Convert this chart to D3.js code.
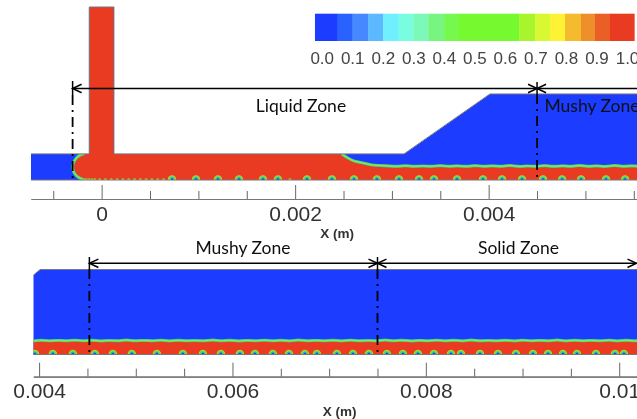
<!DOCTYPE html>
<html>
<head>
<meta charset="utf-8">
<script src="https://cdn.jsdelivr.net/npm/d3@7"></script>
<style>
	html, body { margin: 0; padding: 0; background: #fff; overflow: hidden; }
	svg { display: block; }
	.zone { font-family: Lato, sans-serif; font-size: 17.5px; fill: #111; text-anchor: middle; }
	.xlabel { font-family: "Liberation Sans", sans-serif; font-size: 13.5px; font-weight: bold; fill: #333; text-anchor: middle; }
</style>
</head>
<body>
<svg id="canvas" width="637" height="419"></svg>
<script>

// Colour bar
var barEdges = [-0.022, 0.052, 0.101, 0.152, 0.201, 0.252, 0.300, 0.349, 0.401, 0.449, 0.647, 0.699, 0.748, 0.797, 0.849, 0.895, 0.944, 1.024];
var barColors = ["#1a3cff", "#2a62ff", "#4488ff", "#5cb8ff", "#6ff0ff", "#78fde0", "#7bf8b8", "#78f580", "#76f850", "#76f92e", "#a8f52e", "#d8f832", "#fef236", "#f5bb2e", "#ee8f2a", "#ea5f25", "#e93a22"];
var barTicks = [0, 0.1, 0.2, 0.3, 0.4, 0.5, 0.6, 0.7, 0.8, 0.9, 1];

// Top panel, metres
var topMajor = [0, 0.002, 0.004];
var topMinor = [-0.0005, 0.0005, 0.001, 0.0015, 0.0025, 0.003, 0.0035, 0.0045, 0.005, 0.0055];
var topOutlineX = [-0.00073, -0.00073, -0.000128, -0.000128, 0.000127, 0.000127, 0.003125, 0.004013, 0.0058, 0.0058];
var topOutlineY = [0, 0.00027, 0.00027, 0.00179, 0.00179, 0.00027, 0.00027, 0.00089, 0.00089, 0];
var topFrontX = [-0.00017, -0.00021, -0.00025, -0.000278, -0.000292, -0.000298, -0.000292, -0.000275, -0.00025, -0.000215, -0.00018];
var topFrontY = [0, 0.000012, 0.000035, 0.000065, 0.000095, 0.000135, 0.000175, 0.000208, 0.000238, 0.00026, 0.00027];
var topRedX = [-0.000128, -0.000128, 0.000127, 0.000127, 0.00248];
var topRedY = [0.00027, 0.00179, 0.00179, 0.00027, 0.00027];
var topFaceX = [0.00248, 0.00255, 0.0026, 0.00265, 0.0027, 0.00275, 0.0028, 0.00288, 0.00296, 0.00305, 0.00314, 0.00323, 0.00332, 0.00341, 0.0035, 0.00359, 0.00368, 0.00377, 0.00386, 0.00395, 0.00404, 0.00413, 0.00422, 0.00431, 0.0044, 0.00449, 0.00458, 0.00467, 0.00476, 0.00485, 0.00494, 0.00503, 0.00512, 0.00521, 0.0053, 0.00539, 0.00548, 0.00557, 0.00566, 0.0058];
var topFaceY = [0.00027, 0.000225, 0.0002, 0.000187, 0.000176, 0.000165, 0.000155, 0.00015, 0.000146, 0.000142, 0.000147, 0.000142, 0.000145, 0.000142, 0.000148, 0.000142, 0.000146, 0.000141, 0.000148, 0.000142, 0.000146, 0.000142, 0.000149, 0.000141, 0.000145, 0.000142, 0.000148, 0.000141, 0.000146, 0.000142, 0.000149, 0.000142, 0.000146, 0.000141, 0.000149, 0.000142, 0.000146, 0.000142, 0.000148, 0.000144];
var topDrops = [0.000727, 0.000975, 0.001202, 0.001419, 0.001667, 0.001822, 0.002122, 0.00238, 0.002608, 0.002845, 0.003073, 0.00328, 0.003435, 0.003673, 0.003941, 0.004138, 0.004345, 0.004562, 0.004759, 0.004955, 0.005213, 0.00541];
var topSmall = [-0.00016, -0.00013, -0.0001, -0.00007, -0.00002, 0.00004, 0.0001, 0.00016, 0.00022, 0.00028, 0.00034, 0.0004, 0.00046, 0.00052, 0.00058, 0.00064, 0.0007, 0.001946];

// Bottom panel, metres
var botMajor = [0.004, 0.006, 0.008, 0.01];
var botMinor = [0.0045, 0.005, 0.0055, 0.0065, 0.007, 0.0075, 0.0085, 0.009, 0.0095];
var botOutlineX = [0.00394, 0.00394, 0.00401, 0.0103, 0.0103];
var botOutlineY = [0, 0.00082, 0.00088, 0.00088, 0];
var botFaceX = [0.00394, 0.00402, 0.00411, 0.0042, 0.00428, 0.00437, 0.00446, 0.00455, 0.00463, 0.00473, 0.00482, 0.0049, 0.00499, 0.00508, 0.00518, 0.00526, 0.00535, 0.00544, 0.00553, 0.00561, 0.0057, 0.0058, 0.00588, 0.00597, 0.00606, 0.00615, 0.00624, 0.00633, 0.00642, 0.0065, 0.00659, 0.00668, 0.00678, 0.00686, 0.00695, 0.00704, 0.00713, 0.00722, 0.00731, 0.0074, 0.00749, 0.00758, 0.00766, 0.00775, 0.00785, 0.00793, 0.00802, 0.00811, 0.0082, 0.00829, 0.00838, 0.00847, 0.00856, 0.00865, 0.00873, 0.00882, 0.00892, 0.009, 0.00909, 0.00918, 0.00927, 0.00936, 0.00945, 0.00954, 0.00963, 0.00971, 0.0098, 0.0099, 0.00998, 0.01007, 0.01016, 0.0103];
var botFaceY = [0.00014, 0.000147, 0.000142, 0.000146, 0.000142, 0.000148, 0.000142, 0.000147, 0.000141, 0.000145, 0.000142, 0.000149, 0.000142, 0.000146, 0.000142, 0.000148, 0.000141, 0.000147, 0.000142, 0.000145, 0.000142, 0.000149, 0.000142, 0.000147, 0.000141, 0.000146, 0.000142, 0.000148, 0.000142, 0.000147, 0.000141, 0.000149, 0.000142, 0.000146, 0.000142, 0.000147, 0.000141, 0.000148, 0.000142, 0.000145, 0.000142, 0.000149, 0.000142, 0.000147, 0.000141, 0.000146, 0.000142, 0.000148, 0.000142, 0.000147, 0.000141, 0.000149, 0.000142, 0.000145, 0.000142, 0.000147, 0.000141, 0.000148, 0.000142, 0.000146, 0.000142, 0.000149, 0.000141, 0.000147, 0.000142, 0.000146, 0.000142, 0.000148, 0.000141, 0.000147, 0.000142, 0.000144];
var botDrops = [0.003956, 0.004142, 0.004349, 0.004576, 0.004763, 0.004959, 0.005218, 0.005487, 0.005694, 0.00588, 0.006077, 0.006232, 0.006418, 0.006584, 0.006749, 0.006873, 0.00708, 0.007246, 0.007411, 0.007597, 0.007763, 0.007918, 0.008084, 0.00826, 0.008363, 0.00856, 0.008746, 0.008932, 0.009108, 0.009263, 0.009418, 0.009563, 0.00976, 0.009956, 0.010049];

var blue = "#1a3cff";
var red = "#e93a22";

var svg = d3.select("#canvas");

var blur = svg.append("defs").append("filter")
	.attr("id", "soft")
	.attr("x", "-2%").attr("y", "-2%")
	.attr("width", "104%").attr("height", "104%");
blur.append("feGaussianBlur").attr("stdDeviation", 0.6);

var root = svg.append("g").attr("filter", "url(#soft)");

var xTop = d3.scaleLinear().domain([-0.00073, 0.005533]).range([31, 637]);
var yTop = d3.scaleLinear().domain([0, 0.00179]).range([180, 7]);
var xBot = d3.scaleLinear().domain([0.00394, 0.010184]).range([33.3, 637]);
var yBot = d3.scaleLinear().domain([0, 0.00088]).range([354.5, 269.5]);

function pairs(xs, ys) {
	return xs.map(function(d, i) { return [d, ys[i]]; });
}

function drawPanel(g, x, y, id, outline, redShape, fronts, drops, small) {
	var line = d3.line()
		.x(function(d) { return x(d[0]); })
		.y(function(d) { return y(d[1]); });
	var smooth = d3.line()
		.x(function(d) { return x(d[0]); })
		.y(function(d) { return y(d[1]); })
		.curve(d3.curveCatmullRom);

	g.append("clipPath").attr("id", id)
		.append("path").attr("d", line(outline) + "Z");

	var inside = g.append("g").attr("clip-path", "url(#" + id + ")");

	inside.append("path").attr("d", line(outline) + "Z").attr("fill", blue);

	inside.selectAll("path.red")
		.data(redShape)
		.enter().append("path")
		.attr("class", "red")
		.attr("d", function(d) { return line(d) + "Z"; })
		.attr("fill", red);

	// Contour bands along the free surface
	var bands = [[3, "#35b8c8"], [2.2, "#5fe060"], [0.8, "#a8e830"]];
	bands.forEach(function(b, k) {
		inside.selectAll("path.f" + k)
			.data(fronts)
			.enter().append("path")
			.attr("class", "f" + k)
			.attr("d", function(d) { return smooth(d); })
			.attr("fill", "none")
			.attr("stroke", b[1])
			.attr("stroke-width", b[0]);
	});

	var spots = [[4.2, "#c8d02e"], [3.4, "#60e050"], [2.2, "#30b8b0"], [1.2, blue]];
	spots.forEach(function(s, k) {
		inside.selectAll("circle.s" + k)
			.data(drops)
			.enter().append("circle")
			.attr("class", "s" + k)
			.attr("cx", function(d) { return x(d); })
			.attr("cy", y(0) - 0.5)
			.attr("r", s[0])
			.attr("fill", s[1]);
	});

	inside.selectAll("circle.small")
		.data(small)
		.enter().append("circle")
		.attr("class", "small")
		.attr("cx", function(d) { return x(d); })
		.attr("cy", y(0) - 0.2)
		.attr("r", 1.6)
		.attr("fill", "#a8e02e");

	g.append("path")
		.attr("d", line(outline.slice(1).concat([outline[0]])))
		.attr("fill", "none")
		.attr("stroke", "#77777c")
		.attr("stroke-width", 1);
}

function drawAxis(g, x, axisY, major, minor, pad) {
	var ax = g.append("g").attr("transform", "translate(0," + axisY + ")");
	var minorAxis = d3.axisBottom(x).tickValues(minor).tickSizeInner(-8).tickSizeOuter(0).tickFormat("");
	var majorAxis = d3.axisBottom(x).tickValues(major).tickSizeInner(-14).tickSizeOuter(0)
		.tickPadding(pad).tickFormat(function(d) { return d3.format("~g")(d); });
	ax.append("g").call(minorAxis);
	ax.append("g").call(majorAxis);
	ax.selectAll("path.domain").attr("stroke", "#777").attr("stroke-width", 1.2);
	ax.selectAll("line").attr("stroke", "#666").attr("stroke-width", 1);
	ax.selectAll("text").attr("font-size", 21).attr("fill", "#333").attr("font-family", "Liberation Sans");
}

function drawArrow(g, x0, x1, ay) {
	g.append("line")
		.attr("x1", x0).attr("x2", x1).attr("y1", ay).attr("y2", ay)
		.attr("stroke", "#000").attr("stroke-width", 1.5);
	[[x0, 1], [x1, -1]].forEach(function(a) {
		g.append("path")
			.attr("d", "M" + (a[0] + a[1] * 9) + "," + (ay - 4.2) + "L" + a[0] + "," + ay + "L" + (a[0] + a[1] * 9) + "," + (ay + 4.2))
			.attr("fill", "none").attr("stroke", "#000").attr("stroke-width", 1.5);
	});
}

function drawMarker(g, px, y0, y1, y2) {
	g.append("line")
		.attr("x1", px).attr("x2", px).attr("y1", y0).attr("y2", y1)
		.attr("stroke", "#000").attr("stroke-width", 1.5);
	g.append("line")
		.attr("x1", px).attr("x2", px).attr("y1", y1).attr("y2", y2)
		.attr("stroke", "#000").attr("stroke-width", 1.8)
		.attr("stroke-dasharray", "10,5,2,5");
}

// Colour bar
var xBar = d3.scaleLinear().domain([0, 1]).range([321.7, 627]);
root.selectAll("rect.band")
	.data(barColors)
	.enter().append("rect")
	.attr("class", "band")
	.attr("x", function(d, i) { return xBar(barEdges[i]); })
	.attr("width", function(d, i) { return xBar(barEdges[i + 1]) - xBar(barEdges[i]) + 0.3; })
	.attr("y", 13.7)
	.attr("height", 27.3)
	.attr("fill", function(d) { return d; });

var barAxis = root.append("g").attr("transform", "translate(0,41)")
	.call(d3.axisBottom(xBar).tickValues(barTicks).tickSize(0).tickPadding(11).tickFormat(d3.format(".1f")));
barAxis.select("path.domain").remove();
barAxis.selectAll("text").attr("font-size", 17).attr("fill", "#444").attr("font-family", "Liberation Sans");

// Top panel
var topFront = pairs(topFrontX, topFrontY);
var topFace = pairs(topFaceX, topFaceY);
var topPanel = root.append("g");
var topRed = [pairs(topFrontX, topFrontY)
	.concat(pairs(topRedX, topRedY))
	.concat(topFace.slice(1))
	.concat([[0.0058, 0]])];
drawPanel(topPanel, xTop, yTop, "clipTop", pairs(topOutlineX, topOutlineY), topRed, [topFront, topFace], topDrops, topSmall);
drawAxis(root, xTop, 199, topMajor, topMinor, 7);

drawMarker(root, xTop(-0.0003), 81, 95, 180);
drawMarker(root, xTop(0.0045), 82, 94, 180);
drawArrow(root, xTop(-0.0003), xTop(0.0045), 88.5);
drawArrow(root, xTop(0.0045), 650, 88.5);

root.append("text").attr("class", "zone").attr("x", 301).attr("y", 112).text("Liquid Zone");
root.append("text").attr("class", "zone").attr("x", 592).attr("y", 112).text("Mushy Zone");
root.append("text").attr("class", "xlabel").attr("x", 337).attr("y", 238).text("X (m)");

// Bottom panel
var botFace = pairs(botFaceX, botFaceY);
var botPanel = root.append("g");
var botRed = [botFace.concat([[0.0103, 0], [0.00394, 0]])];
drawPanel(botPanel, xBot, yBot, "clipBot", pairs(botOutlineX, botOutlineY), botRed, [botFace], botDrops, []);
drawAxis(root, xBot, 376.7, botMajor, botMinor, 6.5);

drawMarker(root, xBot(0.00452), 257, 269, 354);
drawMarker(root, xBot(0.0075), 257, 269, 354);
drawArrow(root, xBot(0.00452), xBot(0.0075), 263.3);
drawArrow(root, xBot(0.0075), 636.5, 263.3);

root.append("text").attr("class", "zone").attr("x", 243).attr("y", 254).text("Mushy Zone");
root.append("text").attr("class", "zone").attr("x", 518.5).attr("y", 254).text("Solid Zone");
root.append("text").attr("class", "xlabel").attr("x", 339.5).attr("y", 416).text("X (m)");

</script>
</body>
</html>
